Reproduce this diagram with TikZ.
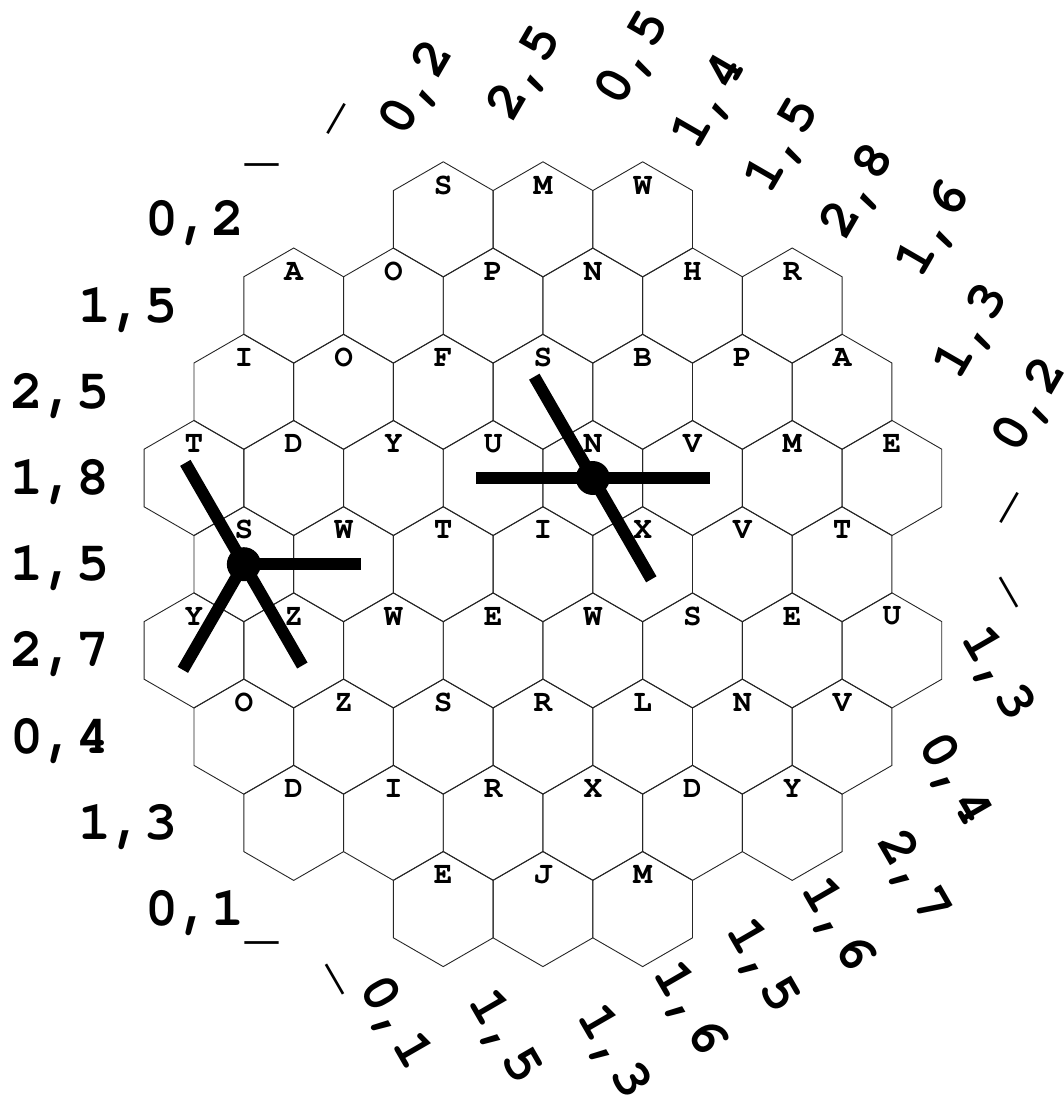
\documentclass[tikz,border=0pt]{standalone}
\usepackage{fontspec}
\usetikzlibrary{calc}
\newfontfamily\cluefont{texgyrecursor-bold.otf}

% одна комірка: рядок, півкрок по x, літера
\newcommand{\hexcell}[3]{%
  \coordinate (h-#1-#2) at ({194+49.85*#2},{-219.4-86.2*#1});
  \draw[hexline] (h-#1-#2) ++(30:57.6) -- ++(150:57.6) -- ++(210:57.6)
    -- ++(270:57.6) -- ++(330:57.6) -- ++(30:57.6) -- cycle;
  \node[cell] (l-#1-#2) at ($(h-#1-#2)+(0,34.4)$) {#3};
}

\begin{document}
\begin{tikzpicture}[x=1pt,y=1pt,
    hexline/.style={draw=black!85, line width=0.9pt},
    cell/.style={inner sep=0pt, font=\cluefont\fontsize{31}{31}\selectfont},
    clue/.style={inner sep=0pt, text height=33pt, text depth=0pt,
      font=\cluefont\fontsize{55}{55}\selectfont},
    bar/.style={line width=12pt}]

    \useasboundingbox (0,0) rectangle (1063,-1097);

    % Сітка: 3, 6, 7, 8, 7, 8, 7, 6, 3 комірок у рядках
    \foreach \c/\l in {5/S,7/M,9/W} {\hexcell{0}{\c}{\l}}
    \foreach \c/\l in {2/A,4/O,6/P,8/N,10/H,12/R} {\hexcell{1}{\c}{\l}}
    \foreach \c/\l in {1/I,3/O,5/F,7/S,9/B,11/P,13/A} {\hexcell{2}{\c}{\l}}
    \foreach \c/\l in {0/T,2/D,4/Y,6/U,8/N,10/V,12/M,14/E} {\hexcell{3}{\c}{\l}}
    \foreach \c/\l in {1/S,3/W,5/T,7/I,9/X,11/V,13/T} {\hexcell{4}{\c}{\l}}
    \foreach \c/\l in {0/Y,2/Z,4/W,6/E,8/W,10/S,12/E,14/U} {\hexcell{5}{\c}{\l}}
    \foreach \c/\l in {1/O,3/Z,5/S,7/R,9/L,11/N,13/V} {\hexcell{6}{\c}{\l}}
    \foreach \c/\l in {2/D,4/I,6/R,8/X,10/D,12/Y} {\hexcell{7}{\c}{\l}}
    \foreach \c/\l in {5/E,7/J,9/M} {\hexcell{8}{\c}{\l}}

    % Підказки зліва (горизонтальні рядки)
    \foreach \x/\r/\t in {195/0/{0,2},128/1/{1,5},60/2/{2,5},60/3/{1,8},60/4/{1,5},
        60/5/{2,7},60/6/{0,4},128/7/{1,3},195/8/{0,1}}
      \node[clue] (row-\r) at (\x,{-219.4-86.2*\r}) {\t};
    \node[clue] (nw) at (262,-143) {\_};
    \node[clue] (sw) at (262,-921) {\_};

    % Підказки згори і справа (повернуті на 60)
    \foreach \x/\y/\t [count=\i] in {317/107.5/\_,415/87/{0,2},523/72/{2,5},631/57/{0,5},
        708/100/{1,4},781/144/{1,5},856/190/{2,8},932/228/{1,6},970/330/{1,3},
        1028/404/{0,2},990/496.5/\_}
      \node[clue, rotate=60] (ne-\i) at (\x,-\y) {\t};

    % Підказки справа і знизу (повернуті на -60)
    \foreach \x/\y/\t [count=\i] in {1028/581.5/\_,1000/673/{1,3},957/779/{0,4},916/876/{2,7},
        840/924/{1,6},765/965/{1,5},692/1008/{1,6},616/1051/{1,3},507/1036/{1,5},
        398/1022/{0,1},354/968.5/\_}
      \node[clue, rotate=-60] (se-\i) at (\x,-\y) {\t};

    % Зірка в комірці N
    \draw[bar] (h-3-8) -- ++(180:117);
    \draw[bar] (h-3-8) -- ++(0:117);
    \draw[bar] (h-3-8) -- ++(120:117);
    \draw[bar] (h-3-8) -- ++(-60:117);
    \fill (h-3-8) circle (17);

    % Зірка в комірці S
    \draw[bar] (h-4-1) -- ++(0:117);
    \draw[bar] (h-4-1) -- ++(120:117);
    \draw[bar] (h-4-1) -- ++(240:122);
    \draw[bar] (h-4-1) -- ++(-60:117);
    \fill (h-4-1) circle (17);
\end{tikzpicture}
\end{document}
